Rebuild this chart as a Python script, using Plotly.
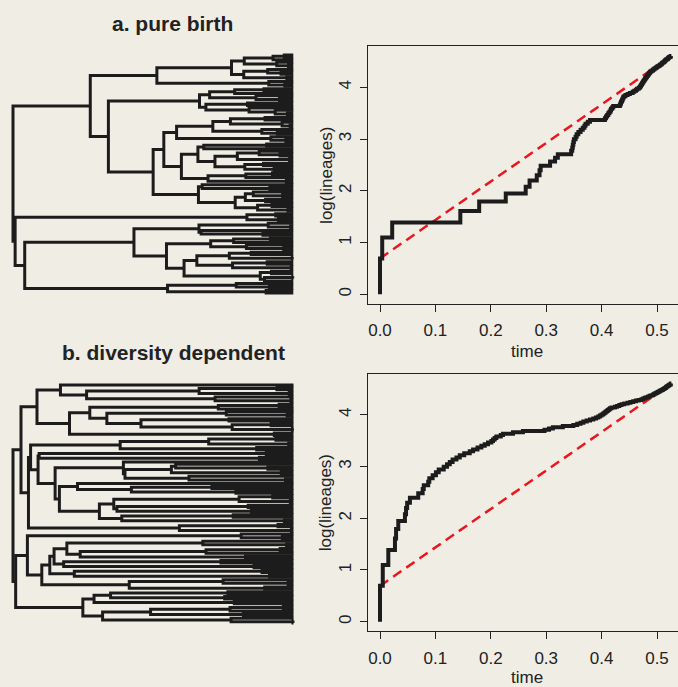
import numpy as np
import plotly.graph_objects as go

# ---------------- data ----------------
# Each tree: divergence time (MRCA age from root) between adjacent tips, top to bottom.
tree_a_gaps = [
    0.509, 0.488, 0.434, 0.495, 0.517, 0.410, 0.478, 0.503, 0.433, 0.514,
    0.270, 0.480, 0.510, 0.145, 0.471, 0.416, 0.369, 0.456, 0.500, 0.350,
    0.440, 0.362, 0.443, 0.492, 0.515, 0.179, 0.473, 0.408, 0.505, 0.520,
    0.375, 0.467, 0.496, 0.307, 0.484, 0.512, 0.283, 0.476, 0.358, 0.347,
    0.462, 0.501, 0.421, 0.519, 0.379, 0.470, 0.435, 0.490, 0.316, 0.487,
    0.437, 0.366, 0.513, 0.263, 0.355, 0.482, 0.348, 0.451, 0.506, 0.436,
    0.474, 0.417, 0.486, 0.459, 0.516, 0.000, 0.493, 0.439, 0.498, 0.004,
    0.479, 0.521, 0.349, 0.353, 0.469, 0.227, 0.483, 0.414, 0.371, 0.438,
    0.508, 0.288, 0.447, 0.406, 0.524, 0.345, 0.477, 0.412, 0.522, 0.321,
    0.485, 0.464, 0.525, 0.472, 0.022, 0.419, 0.481, 0.290, 0.475,
]
tree_b_gaps = [
    0.089, 0.495, 0.349, 0.518, 0.138, 0.379, 0.521, 0.045, 0.499, 0.385,
    0.144, 0.400, 0.514, 0.176, 0.405, 0.240, 0.484, 0.411, 0.524, 0.106,
    0.490, 0.015, 0.493, 0.367, 0.517, 0.201, 0.457, 0.033, 0.475, 0.049,
    0.462, 0.047, 0.207, 0.305, 0.478, 0.297, 0.503, 0.210, 0.330, 0.511,
    0.079, 0.121, 0.373, 0.222, 0.418, 0.087, 0.487, 0.424, 0.520, 0.189,
    0.441, 0.195, 0.447, 0.162, 0.413, 0.204, 0.509, 0.029, 0.497, 0.312,
    0.522, 0.000, 0.428, 0.505, 0.027, 0.356, 0.513, 0.101, 0.501, 0.362,
    0.126, 0.436, 0.077, 0.390, 0.095, 0.452, 0.069, 0.467, 0.115, 0.481,
    0.054, 0.394, 0.516, 0.218, 0.472, 0.005, 0.403, 0.183, 0.397, 0.152,
    0.415, 0.131, 0.507, 0.407, 0.258, 0.432, 0.168, 0.409, 0.525,
]
present_time = 0.526
titles = ["a. pure birth", "b. diversity dependent"]
x_tickvals = [0.0, 0.1, 0.2, 0.3, 0.4, 0.5]
x_ticktext = ["0.0", "0.1", "0.2", "0.3", "0.4", "0.5"]
y_tickvals = [0, 1, 2, 3, 4]
y_ticktext = ["0", "1", "2", "3", "4"]
x_label = "time"
y_label = "log(lineages)"

# ---------------- style ----------------
W, H = 678, 687
BG = "#f0ede5"
INK = "#1c1c1c"
RED = "#e8161e"
FONT = "Liberation Sans, Arial, Helvetica, sans-serif"


def tree_paths(gaps, t_end):
    xs, ys = [], []

    def build(lo, hi):
        if lo == hi:
            return float(lo), t_end
        k = lo + int(np.argmin(gaps[lo:hi]))
        t = gaps[k]
        y1, x1 = build(lo, k)
        y2, x2 = build(k + 1, hi)
        xs.extend([x1, t, t, x2, None])
        ys.extend([y1, y1, y2, y2, None])
        return (y1 + y2) / 2.0, t

    build(0, len(gaps))
    return xs, ys


def ltt(gaps, t_end):
    times = sorted(gaps)
    n = len(times) + 1
    x = [times[0]] + times + [t_end]
    y = [np.log(1)] + [np.log(k) for k in range(2, n + 1)] + [np.log(n)]
    return x, y, n


def xdom(p0, p1):
    return [max(0.0, p0 / W), min(1.0, p1 / W)]


def ydom(ptop, pbot):
    return [1 - pbot / H, 1 - ptop / H]


fig = go.Figure()

# pixel geometry for panels (tree: root px, tip px; tips top/bottom px)
tree_geo = [
    dict(root=13.0, tip=293.3, top=55.0, bot=293.0),
    dict(root=13.0, tip=293.5, top=385.0, bot=623.0),
]
ltt_geo = [
    dict(x0=380.0, xs=554.0, y0=294.3, ys=51.75),
    dict(x0=380.0, xs=554.0, y0=621.7, ys=51.7),
]
layout_axes = {}
for i, gaps in enumerate([tree_a_gaps, tree_b_gaps]):
    ntips = len(gaps) + 1
    # tree
    g = tree_geo[i]
    xs, ys = tree_paths(gaps, present_time)
    ax = 2 * i + 1
    xn = "x" if ax == 1 else f"x{ax}"
    yn = "y" if ax == 1 else f"y{ax}"
    fig.add_trace(go.Scatter(x=xs, y=ys, mode="lines", xaxis=xn, yaxis=yn,
                             line=dict(color=INK, width=3), hoverinfo="skip",
                             showlegend=False))
    pxt = (g["tip"] - g["root"]) / present_time
    xr = [-0.02, present_time + 0.02]
    pyt = (g["bot"] - g["top"]) / (ntips - 1)
    yr = [ntips - 1 + 1.0, -1.0]
    layout_axes[f"xaxis{'' if ax == 1 else ax}"] = dict(
        range=xr, domain=xdom(g["root"] + xr[0] * pxt, g["root"] + xr[1] * pxt),
        visible=False, anchor=yn, fixedrange=True)
    layout_axes[f"yaxis{'' if ax == 1 else ax}"] = dict(
        range=yr, domain=ydom(g["top"] - 1.0 * pyt, g["bot"] + 1.0 * pyt),
        visible=False, anchor=xn, fixedrange=True)

    # LTT
    L = ltt_geo[i]
    lx, ly, n = ltt(gaps, present_time)
    ax2 = 2 * i + 2
    xn2, yn2 = f"x{ax2}", f"y{ax2}"
    fig.add_trace(go.Scatter(x=[lx[1], present_time], y=[np.log(2), np.log(n)],
                             mode="lines", xaxis=xn2, yaxis=yn2,
                             line=dict(color=RED, width=2.5, dash="10px,6px"),
                             hoverinfo="skip", showlegend=False))
    fig.add_trace(go.Scatter(x=lx, y=ly, mode="lines", xaxis=xn2, yaxis=yn2,
                             line=dict(color=INK, width=4, shape="hv"),
                             hoverinfo="skip", showlegend=False))
    box_left = 368.3
    xr2 = [(box_left - L["x0"]) / L["xs"], (W - L["x0"]) / L["xs"]]
    yr2 = [-0.184, 4.789]
    top_px = L["y0"] - yr2[1] * L["ys"]
    bot_px = L["y0"] - yr2[0] * L["ys"]
    axis_common = dict(showline=True, linecolor="#222", linewidth=1.2,
                       ticks="outside", ticklen=7, tickwidth=1.1, tickcolor="#222",
                       showgrid=False, zeroline=False, fixedrange=True,
                       tickfont=dict(family=FONT, size=17, color="#222"))
    layout_axes[f"xaxis{ax2}"] = dict(range=xr2, domain=xdom(box_left, W),
                                      anchor=yn2, mirror=True,
                                      tickvals=x_tickvals, ticktext=x_ticktext,
                                      ticklabelstandoff=4, **axis_common)
    layout_axes[f"yaxis{ax2}"] = dict(range=yr2, domain=ydom(top_px, bot_px),
                                      anchor=xn2, mirror=False,
                                      tickvals=y_tickvals, ticktext=y_ticktext,
                                      tickangle=-90, ticklabelstandoff=2, **axis_common)

annotations = []
title_pos = [(172, 23), (173, 352)]
for i, t in enumerate(titles):
    annotations.append(dict(text=f"<b>{t}</b>", x=title_pos[i][0] / W, y=1 - title_pos[i][1] / H,
                            xref="paper", yref="paper", showarrow=False,
                            xanchor="center", yanchor="middle",
                            font=dict(family=FONT, size=21, color="#222")))
ylab_pos = [(325.7, 175.2), (325.7, 502.6)]
xlab_pos = [(526.7, 351.0), (526.7, 677.0)]
for i in range(2):
    annotations.append(dict(text=y_label, x=ylab_pos[i][0] / W, y=1 - ylab_pos[i][1] / H,
                            xref="paper", yref="paper", showarrow=False, textangle=-90,
                            xanchor="center", yanchor="middle",
                            font=dict(family=FONT, size=17, color="#222")))
    annotations.append(dict(text=x_label, x=xlab_pos[i][0] / W, y=1 - xlab_pos[i][1] / H,
                            xref="paper", yref="paper", showarrow=False,
                            xanchor="center", yanchor="middle",
                            font=dict(family=FONT, size=17, color="#222")))

fig.update_layout(width=W, height=H, margin=dict(l=0, r=0, t=0, b=0, pad=0),
                  paper_bgcolor=BG, plot_bgcolor=BG, showlegend=False,
                  annotations=annotations, **layout_axes)

fig.write_html("out.html")
